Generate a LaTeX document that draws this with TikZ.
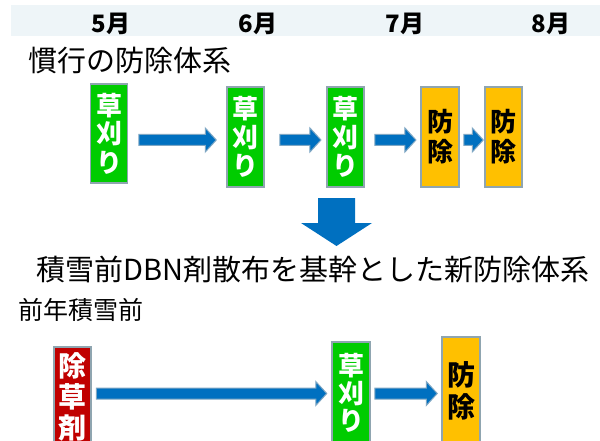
\documentclass[tikz,border=0pt]{standalone}
\usepackage{fontspec}
\setmainfont{Noto Sans CJK JP}
\usetikzlibrary{calc}
\definecolor{bandbg}{HTML}{EEF5F8}
\definecolor{grassgreen}{HTML}{00CC00}
\definecolor{pestorange}{HTML}{FFC000}
\definecolor{herbred}{HTML}{C00000}
\definecolor{boxedge}{HTML}{8FA5B0}
\definecolor{arrowblue}{HTML}{0070C0}
\definecolor{arrowedge}{HTML}{7FA7C4}
\newcommand\fsz[2]{\fontsize{#1pt}{#2pt}\selectfont}
\newcommand\flowarrow[2]{%
  \path[draw=arrowedge,fill=arrowblue,line width=1pt,line join=miter]
    let \p1=#1, \p2=#2 in
    (\x1,\y2+5.5pt) -- (\x2-11pt,\y2+5.5pt) -- (\x2-11pt,\y2+12pt) -- (\x2,\y2)
    -- (\x2-11pt,\y2-12pt) -- (\x2-11pt,\y2-5.5pt) -- (\x1,\y2-5.5pt) -- cycle;}
\begin{document}
\begin{tikzpicture}[x=1pt,y=-1pt,
  stage/.style={draw=boxedge,line width=1.5pt,inner sep=0pt,minimum width=37pt,
    align=center,font=\bfseries},
  mowbox/.style={stage,fill=grassgreen,text=white},
  pestbox/.style={stage,fill=pestorange,text=black},
  herbbox/.style={stage,fill=herbred,text=white},
  month/.style={font=\bfseries\fsz{24}{24},inner sep=0pt},
  heading/.style={anchor=west,inner sep=0pt}]
\useasboundingbox (0,0) rectangle (600,441);
\clip (0,0) rectangle (600,441);
\fill[white] (0,0) rectangle (600,441);
% header band
\fill[bandbg] (11,5) rectangle (600,36);
\node[month] (m5) at (111,24) {5月};
\node[month] (m6) at (258,24) {6月};
\node[month] (m7) at (405,24) {7月};
\node[month] (m8) at (551,24) {8月};
% conventional system
\node[heading,font=\fsz{29}{29}] (t1) at (28,61) {慣行の防除体系};
\node[mowbox,minimum height=99pt,font=\bfseries\fsz{26}{28.5}] (b1) at (109,133.5) {草\\刈\\り};
\node[mowbox,minimum height=100pt,font=\bfseries\fsz{26}{28.5}] (b2) at (245.5,137) {草\\刈\\り};
\node[mowbox,minimum height=100pt,font=\bfseries\fsz{26}{28.5}] (b3) at (345.5,137) {草\\刈\\り};
\node[pestbox,minimum height=100pt,minimum width=38pt,font=\bfseries\fsz{26}{30}] (b4) at (440,137) {防\\除};
\node[pestbox,minimum height=100pt,font=\bfseries\fsz{26}{30}] (b5) at (503.5,137) {防\\除};
\flowarrow{($(b1.east)+(10.6,0)$)}{($(b2.west)+(-10,3)$)}
\flowarrow{($(b2.east)+(15,0)$)}{($(b3.west)+(-5.3,3)$)}
\flowarrow{($(b3.east)+(10,0)$)}{($(b4.west)+(-4.3,3)$)}
\flowarrow{($(b4.east)+(4,0)$)}{($(b5.west)+(-1,3)$)}
% big down arrow
\fill[arrowblue] (318,198) -- (355,198) -- (355,223) -- (372,223) -- (336.5,246)
  -- (301,223) -- (318,223) -- cycle;
% new system
\node[heading,font=\fsz{29}{29}] (t2) at (36,269.5) {積雪前DBN剤散布を基幹とした新防除体系};
\node[heading,font=\fsz{25}{25}] (t3) at (18,310) {前年積雪前};
\node[herbbox,minimum height=100pt,font=\bfseries\fsz{28}{31}] (r1) at (72.5,397) {除\\草\\剤};
\node[mowbox,minimum height=102pt,minimum width=38pt,font=\bfseries\fsz{26}{27.5}] (g1) at (351,393) {草\\刈\\り};
\node[pestbox,minimum height=108pt,minimum width=38pt,font=\bfseries\fsz{28}{32}] (o1) at (461,391) {防\\除};
\flowarrow{($(r1.east)+(4.5,0)$)}{($(g1.west)+(-4.5,0.5)$)}
\flowarrow{($(g1.east)+(4,0)$)}{($(o1.west)+(-4,2.5)$)}
\end{tikzpicture}
\end{document}
